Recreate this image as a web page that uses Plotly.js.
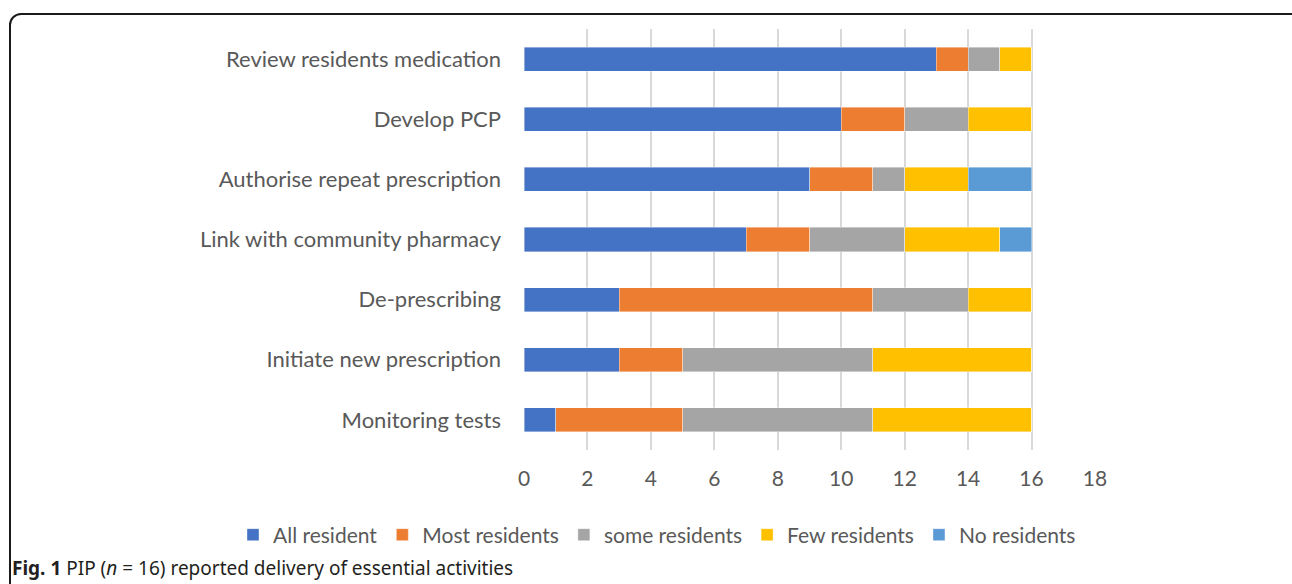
<!DOCTYPE html>
<html>
<head>
<meta charset="utf-8">
<script src="https://cdn.plot.ly/plotly-3.0.1.min.js"></script>
<style>
  html, body { margin:0; padding:0; background:#fff; }
  #wrap { position:relative; width:1292px; height:584px; overflow:hidden; }
  #frame { position:absolute; left:9px; top:13px; width:1300px; height:620px; border:2px solid #1a1a1a; border-radius:12px; box-sizing:border-box; }
  #chart { position:absolute; left:0; top:0; width:1292px; height:584px; }
</style>
</head>
<body>
<div id="wrap">
  <div id="frame"></div>
  <div id="chart"></div>
</div>
<script>
const categories = [
  "Review residents medication",
  "Develop PCP",
  "Authorise repeat prescription",
  "Link with community pharmacy",
  "De-prescribing",
  "Initiate new prescription",
  "Monitoring tests"
];
const seriesNames = ["All resident", "Most residents", "some residents", "Few residents", "No residents"];
const allResident   = [13, 10, 9, 7, 3, 3, 1];
const mostResidents = [1, 2, 2, 2, 8, 2, 4];
const someResidents = [1, 2, 1, 3, 3, 6, 6];
const fewResidents  = [1, 2, 2, 3, 2, 5, 5];
const noResidents   = [0, 0, 2, 1, 0, 0, 0];
const xTicks = [0, 2, 4, 6, 8, 10, 12, 14, 16, 18];
const colors = ["#4472C4", "#ED7D31", "#A5A5A5", "#FFC000", "#5B9BD5"];
const seriesValues = [allResident, mostResidents, someResidents, fewResidents, noResidents];

const traces = seriesValues.map((vals, i) => ({
  type: "bar",
  orientation: "h",
  name: seriesNames[i],
  y: categories,
  x: vals,
  marker: { color: colors[i], line: { color: "rgba(255,255,255,0.5)", width: 0.8 } },
  hoverinfo: "skip"
}));

const W = 1292, H = 584, L = 524, R = 197, T = 29, B = 134;
const PW = W - L - R, PH = H - T - B;

const layout = {
  width: W,
  height: H,
  barmode: "stack",
  bargap: 0.6,
  paper_bgcolor: "rgba(0,0,0,0)",
  plot_bgcolor: "rgba(0,0,0,0)",
  margin: { l: L, r: R, t: T, b: B, pad: 0, autoexpand: false },
  font: { family: "Lato, sans-serif", color: "#595959", size: 21 },
  xaxis: {
    range: [0, 18],
    tickvals: xTicks,
    ticktext: xTicks.map(String),
    showgrid: true,
    gridcolor: "#D9D9D9",
    gridwidth: 2,
    zeroline: false,
    showline: false,
    ticks: "",
    ticklabelstandoff: 14,
    tickfont: { size: 21, color: "#595959" },
    fixedrange: true
  },
  yaxis: {
    autorange: "reversed",
    showgrid: false,
    zeroline: false,
    showline: false,
    ticks: "",
    ticklabelstandoff: 22,
    tickfont: { size: 22, color: "#595959" },
    fixedrange: true
  },
  showlegend: true,
  legend: {
    orientation: "h",
    xref: "paper",
    yref: "paper",
    x: (233 - L) / PW,
    xanchor: "left",
    y: (H - B - 535) / PH,
    yanchor: "middle",
    traceorder: "normal",
    font: { size: 21, color: "#595959" },
    itemwidth: 30
  },
  annotations: [{
    xref: "paper", yref: "paper",
    x: (10 - L) / PW, y: (H - B - 568) / PH,
    xanchor: "left", yanchor: "middle",
    showarrow: false,
    text: "<b>Fig. 1</b> PIP (<i>n</i> = 16) reported delivery of essential activities",
    font: { family: "Noto Sans, sans-serif", size: 19, color: "#231f20" }
  }]
};

Plotly.newPlot("chart", traces, layout, { displayModeBar: false, staticPlot: true });
</script>
</body>
</html>
